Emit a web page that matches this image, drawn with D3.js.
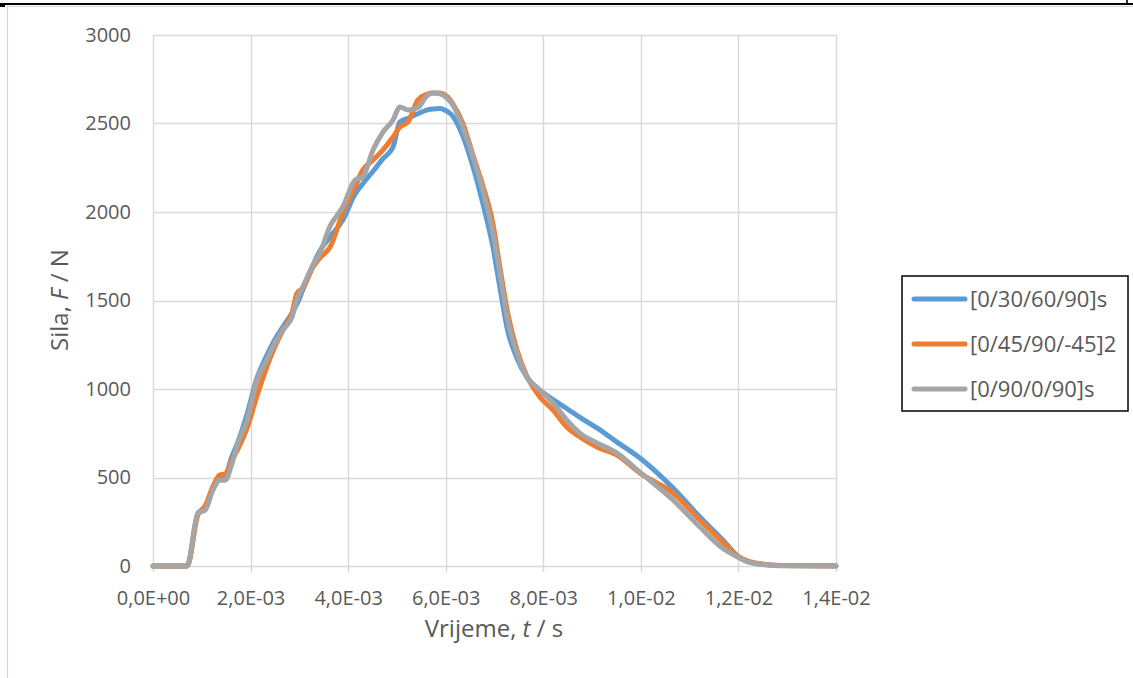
<!DOCTYPE html>
<html>
<head>
<meta charset="utf-8">
<script src="https://cdn.jsdelivr.net/npm/d3@7"></script>
<style>
  html, body { margin: 0; padding: 0; background: #ffffff; }
  svg { display: block; }
  text { font-family: "Open Sans", "Noto Sans", sans-serif; fill: #595959; }
</style>
</head>
<body>
<svg id="chart" width="1133" height="678"></svg>
<script>
// ---------------- DATA ----------------
const timeMs = [0, 0.70, 0.92, 1.07, 1.23, 1.37, 1.48, 1.62, 1.74, 1.93, 2.13, 2.30, 2.50, 2.66, 2.85, 2.95, 3.07, 3.28, 3.42, 3.63, 3.89, 4.14, 4.30, 4.51, 4.71, 4.92, 5.06, 5.23, 5.43, 5.61, 5.74, 5.88, 6.02, 6.15, 6.35, 6.56, 6.76, 6.97, 7.11, 7.27, 7.46, 7.66, 7.93, 8.20, 8.48, 8.75, 9.10, 9.51, 9.98, 10.66, 11.21, 11.68, 11.99, 12.23, 12.85, 14.0];

const force30 = [0, 0, 295, 330, 440, 500, 510, 620, 700, 860, 1060, 1170, 1280, 1350, 1430, 1480, 1560, 1700, 1780, 1859, 1955, 2100, 2160, 2230, 2300, 2367, 2508, 2530, 2555, 2576, 2582, 2585, 2570, 2540, 2430, 2255, 2050, 1800, 1575, 1330, 1175, 1068, 994, 940, 890, 840, 780, 700, 610, 440, 277, 147, 55, 22, 3, 2];

const force45 = [0, 0, 290, 340, 450, 515, 520, 600, 660, 780, 960, 1100, 1240, 1330, 1430, 1540, 1570, 1690, 1740, 1802, 1994, 2141, 2237, 2294, 2350, 2424, 2480, 2510, 2633, 2665, 2672, 2672, 2655, 2610, 2500, 2320, 2150, 1930, 1689, 1430, 1220, 1075, 955, 881, 785, 729, 672, 627, 525, 412, 260, 135, 55, 25, 3, 0];

const force90 = [0, 0, 300, 316, 430, 485, 485, 580, 695, 825, 1050, 1147, 1260, 1333, 1407, 1503, 1576, 1700, 1768, 1920, 2028, 2180, 2198, 2350, 2450, 2520, 2593, 2576, 2590, 2655, 2672, 2668, 2645, 2604, 2480, 2311, 2124, 1881, 1655, 1390, 1203, 1068, 994, 921, 825, 751, 695, 638, 530, 373, 220, 100, 50, 20, 2, 0];

const seriesNames = ["[0/30/60/90]s", "[0/45/90/-45]2", "[0/90/0/90]s"];
const seriesColors = ["#5B9BD5", "#ED7D31", "#A5A5A5"];
const xTicks = [0, 0.002, 0.004, 0.006, 0.008, 0.010, 0.012, 0.014];
const yTicks = [0, 500, 1000, 1500, 2000, 2500, 3000];

// ---------------- CHART ----------------
const svg = d3.select("#chart");

// page frame
svg.append("line").attr("x1", 0).attr("x2", 1133).attr("y1", 4).attr("y2", 4)
  .attr("stroke", "#000").attr("stroke-width", 2);
svg.append("line").attr("x1", 8).attr("x2", 1133).attr("y1", 6.5).attr("y2", 6.5)
  .attr("stroke", "#d4d4d4").attr("stroke-width", 1);
svg.append("line").attr("x1", 7.5).attr("x2", 7.5).attr("y1", 5).attr("y2", 678)
  .attr("stroke", "#d4d4d4").attr("stroke-width", 1.2);
svg.append("rect").attr("x", 0).attr("y", 4).attr("width", 5).attr("height", 3).attr("fill", "#000");
svg.append("rect").attr("x", 1126).attr("y", 0).attr("width", 2).attr("height", 3).attr("fill", "#333");

const pLeft = 153, pRight = 836, pTop = 35, pBottom = 566;
const x = d3.scaleLinear().domain([0, 0.014]).range([pLeft, pRight]);
const y = d3.scaleLinear().domain([0, 3000]).range([pBottom, pTop]);

function fmtExp(v) {
  if (Math.abs(v) < 1e-12) return "0,0E+00";
  let e = Math.floor(Math.log10(v) + 1e-9);
  let m = v / Math.pow(10, e);
  let s = m.toFixed(1).replace(".", ",");
  let es = (e < 0 ? "-" : "+") + String(Math.abs(e)).padStart(2, "0");
  return s + "E" + es;
}

// gridlines
const grid = svg.append("g");
grid.selectAll(".hg").data(yTicks).enter().append("line")
  .attr("x1", pLeft).attr("x2", pRight)
  .attr("y1", d => Math.round(y(d)) + 0.5).attr("y2", d => Math.round(y(d)) + 0.5)
  .attr("stroke", "#D9D9D9").attr("stroke-width", 1.5);
grid.selectAll(".vg").data(xTicks).enter().append("line")
  .attr("x1", d => Math.round(x(d)) + 0.5).attr("x2", d => Math.round(x(d)) + 0.5)
  .attr("y1", pTop).attr("y2", pBottom + 6)
  .attr("stroke", "#D9D9D9").attr("stroke-width", 1.5);

// y tick labels
const yAxis = d3.axisLeft(y).tickValues(yTicks).tickSize(0).tickPadding(22).tickFormat(d3.format("d"));
const gy = svg.append("g").attr("transform", `translate(${pLeft},0)`).call(yAxis);
gy.select(".domain").remove();
gy.selectAll("text").style("font-size", "20px").style("font-family", "Open Sans").attr("fill", "#595959");

// x tick labels
const xAxis = d3.axisBottom(x).tickValues(xTicks).tickSize(0).tickPadding(25).tickFormat(fmtExp);
const gx = svg.append("g").attr("transform", `translate(0,${pBottom})`).call(xAxis);
gx.select(".domain").remove();
gx.selectAll("text").style("font-size", "20px").style("font-family", "Open Sans").attr("fill", "#595959");

// series
const allForces = [force30, force45, force90];
const line = d3.line()
  .x(d => x(d[0] * 1e-3))
  .y(d => y(d[1]))
  .curve(d3.curveMonotoneX);

allForces.forEach((vals, i) => {
  const pts = timeMs.map((t, j) => [t, vals[j]]);
  svg.append("path").datum(pts)
    .attr("d", line)
    .attr("fill", "none")
    .attr("stroke", seriesColors[i])
    .attr("stroke-width", 5)
    .attr("stroke-linejoin", "round")
    .attr("stroke-linecap", "round");
});

// axis titles
const xt = svg.append("text").attr("x", 494).attr("y", 637).attr("text-anchor", "middle")
  .style("font-size", "24px");
xt.append("tspan").text("Vrijeme, ");
xt.append("tspan").style("font-style", "italic").text("t");
xt.append("tspan").text(" / s");

const yt = svg.append("text").attr("transform", "translate(68,300) rotate(-90)").attr("text-anchor", "middle")
  .style("font-size", "24px");
yt.append("tspan").text("Sila, ");
yt.append("tspan").style("font-style", "italic").text("F");
yt.append("tspan").text(" / N");

// legend
const lg = svg.append("g");
lg.append("rect").attr("x", 902).attr("y", 276).attr("width", 226).attr("height", 135)
  .attr("fill", "#fff").attr("stroke", "#000").attr("stroke-width", 1.5);
seriesNames.forEach((name, i) => {
  const cy = 299 + i * 45;
  lg.append("line").attr("x1", 914).attr("x2", 965).attr("y1", cy).attr("y2", cy)
    .attr("stroke", seriesColors[i]).attr("stroke-width", 5).attr("stroke-linecap", "round");
  lg.append("text").attr("x", 970).attr("y", cy).attr("dy", "0.35em")
    .style("font-size", "22px").text(name);
});
</script>
</body>
</html>
